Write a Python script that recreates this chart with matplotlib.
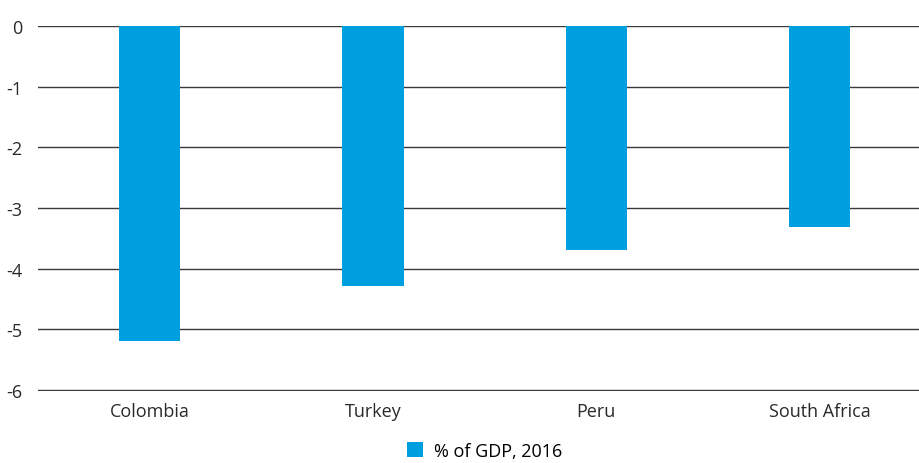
import matplotlib.pyplot as plt
import numpy as np

# data
countries = ['Colombia', 'Turkey', 'Peru', 'South Africa']
gdp_pct = [-5.2, -4.28, -3.7, -3.32]
y_ticks = [0, -1, -2, -3, -4, -5, -6]
series_label = '% of GDP, 2016'

bar_color = '#009FDF'

plt.rcParams['font.family'] = ['Open Sans', 'DejaVu Sans']

fig = plt.figure(figsize=(9.2, 4.64), dpi=100)
# axes from y=0 (27px) down to y=-6.02 (392px)
ax = fig.add_axes([38 / 920, 1 - 392.2 / 464, 1 - 38 / 920, 365.2 / 464])

x = np.arange(len(countries))
ax.bar(x, gdp_pct, width=0.274, color=bar_color, zorder=2, label=series_label)

ax.set_ylim(-6.02, 0)
ax.set_xlim(-0.5, 3.45)
ax.set_yticks(y_ticks)
ax.set_yticklabels([str(t) for t in y_ticks])
ax.set_xticks(x)
ax.set_xticklabels(countries)
ax.yaxis.grid(True, color='#3a3a3a', linewidth=1.0, zorder=1)
ax.tick_params(axis='both', length=0, labelsize=13, colors='#2a2a2a')
ax.tick_params(axis='y', pad=11)
ax.tick_params(axis='x', pad=8)
ax.set_axisbelow(True)
for s in ax.spines.values():
    s.set_visible(False)

fig.legend(loc='lower center', bbox_to_anchor=(0.527, -0.028), frameon=False,
           fontsize=13, handlelength=0.9, handleheight=0.9, handletextpad=0.6)

fig.savefig('out.png', dpi=100)
